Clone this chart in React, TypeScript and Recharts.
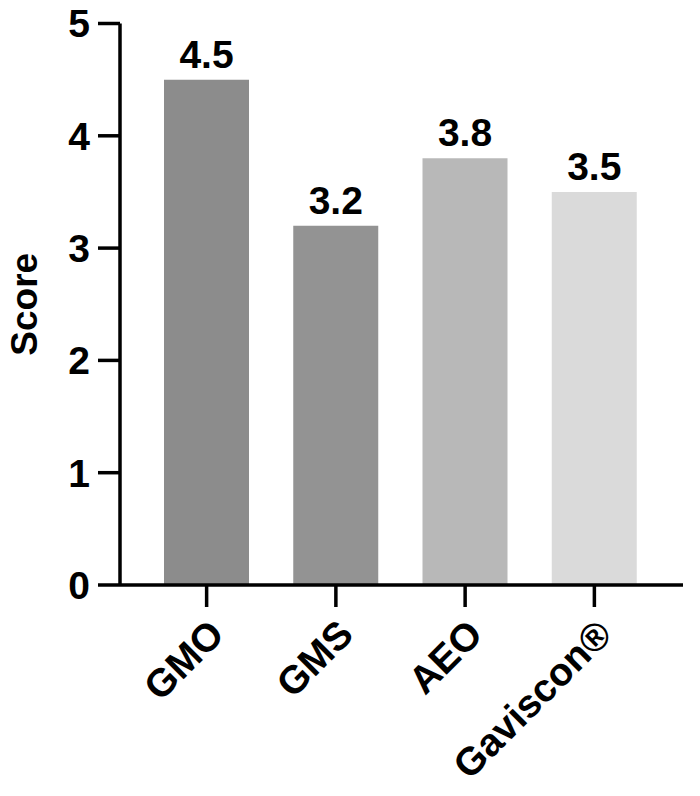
import React from 'react';
import { BarChart, Bar, XAxis, YAxis, Cell, LabelList } from 'recharts';

const categories = ['GMO', 'GMS', 'AEO', 'Gaviscon®'];
const scores = [4.5, 3.2, 3.8, 3.5];
const barColors = ['#8c8c8c', '#939393', '#b8b8b8', '#dadada'];
const yTicks = [0, 1, 2, 3, 4, 5];

const data = categories.map((name, i) => ({ name, value: scores[i] }));

const FONT = '"Liberation Sans", Arial, Helvetica, sans-serif';

const ScoreLabel = (props: any) => {
  const vb = props.viewBox || {};
  const cx = 24;
  const cy = (vb.y || 0) + (vb.height || 0) / 2;
  return (
    <text
      x={cx}
      y={cy}
      transform={`rotate(-90, ${cx}, ${cy})`}
      textAnchor="middle"
      dominantBaseline="central"
      fontFamily={FONT}
      fontWeight="bold"
      fontSize={37}
      fill="#000"
    >
      Score
    </text>
  );
};

export default function App() {
  return (
    <div style={{ position: 'absolute', left: 0, top: 0, width: 700, height: 796, background: '#fff' }}>
      <BarChart
        width={700}
        height={796}
        data={data}
        margin={{ top: 23.5, right: 17, left: 0, bottom: 11 }}
        barSize={85}
      >
        <XAxis
          dataKey="name"
          type="category"
          interval={0}
          height={200}
          padding={{ left: 22, right: 24 }}
          axisLine={{ stroke: '#000', strokeWidth: 3.5 }}
          tickLine={{ stroke: '#000', strokeWidth: 3.5 }}
          tickSize={22}
          tickMargin={10}
          tick={{
            fontSize: 39,
            fontWeight: 'bold',
            fontFamily: FONT,
            fill: '#000',
            angle: -45,
            textAnchor: 'end',
          }}
        />
        <YAxis
          type="number"
          domain={[0, 5]}
          ticks={yTicks}
          width={120}
          axisLine={{ stroke: '#000', strokeWidth: 3.5 }}
          tickLine={{ stroke: '#000', strokeWidth: 3.5 }}
          tickSize={22}
          tickMargin={8}
          tick={{ fontSize: 39, fontWeight: 'bold', fontFamily: FONT, fill: '#000' }}
          label={{ content: ScoreLabel }}
        />
        <Bar dataKey="value" isAnimationActive={false}>
          {data.map((d, i) => (
            <Cell key={d.name} fill={barColors[i]} />
          ))}
          <LabelList
            dataKey="value"
            position="top"
            offset={12}
            style={{ fontSize: 39, fontWeight: 'bold', fontFamily: FONT, fill: '#000' }}
          />
        </Bar>
      </BarChart>
    </div>
  );
}
